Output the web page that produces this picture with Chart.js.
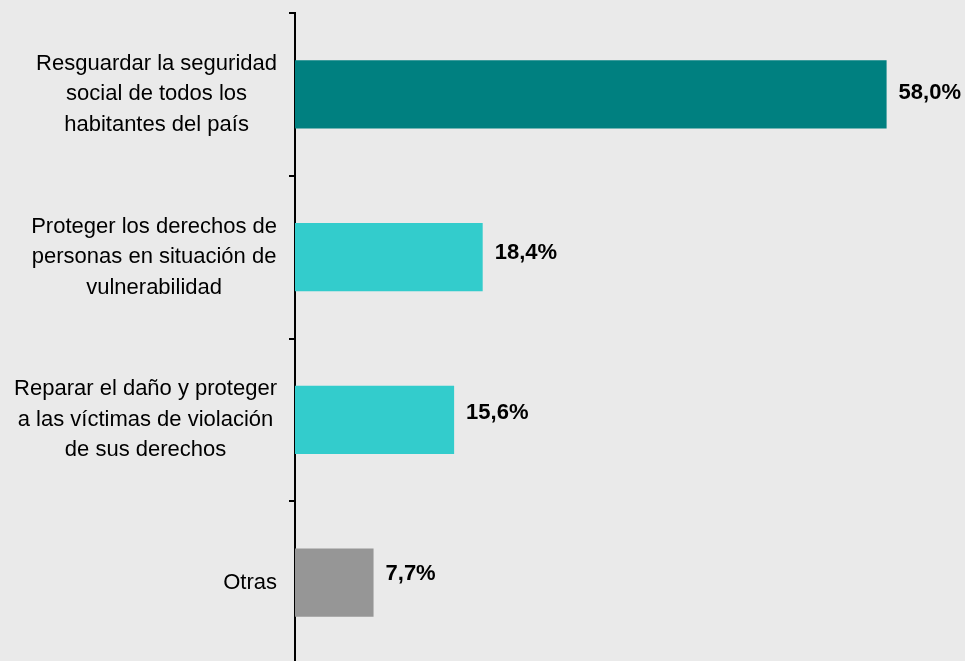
<!DOCTYPE html>
<html>
<head>
<meta charset="utf-8">
<script src="https://cdn.jsdelivr.net/npm/chart.js@4/dist/chart.umd.min.js"></script>
<style>
html,body{margin:0;padding:0;background:#eaeaea;overflow:hidden;}
#wrap{position:relative;width:965px;height:665px;}
</style>
</head>
<body>
<div id="wrap"><canvas id="c"></canvas></div>
<script>
const categories = [
  ["Resguardar la seguridad", "social de todos los", "habitantes del país"],
  ["Proteger los derechos de", "personas en situación de", "vulnerabilidad"],
  ["Reparar el daño y proteger", "a las víctimas de violación", "de sus derechos"],
  ["Otras"]
];
const values = [58.0, 18.4, 15.6, 7.7];
const valueLabels = ["58,0%", "18,4%", "15,6%", "7,7%"];
const barColors = ["#008080", "#33cccc", "#33cccc", "#969696"];

const FONT = '"Liberation Sans", Arial, sans-serif';

const labelPlugin = {
  id: 'customLabels',
  afterDraw(chart) {
    const ctx = chart.ctx;
    const yScale = chart.scales.y;
    ctx.save();
    ctx.font = '22px ' + FONT;
    ctx.fillStyle = '#000';
    ctx.textBaseline = 'middle';
    ctx.textAlign = 'center';
    const rightEdge = 277;
    const lh = 30.5;
    categories.forEach((lines, i) => {
      const yc = yScale.getPixelForValue(i);
      let maxW = 0;
      lines.forEach(l => { maxW = Math.max(maxW, ctx.measureText(l).width); });
      const cx = rightEdge - maxW / 2;
      const y0 = yc - (lines.length - 1) * lh / 2;
      lines.forEach((l, k) => ctx.fillText(l, cx, y0 + k * lh));
    });
    ctx.font = 'bold 22px ' + FONT;
    ctx.textAlign = 'left';
    const meta = chart.getDatasetMeta(0);
    const yOff = [-1, -4, -7, -9];
    meta.data.forEach((bar, i) => {
      ctx.fillText(valueLabels[i], bar.x + 12, bar.y + yOff[i]);
    });
    ctx.restore();
  }
};

new Chart(document.getElementById('c'), {
  type: 'bar',
  data: {
    labels: categories,
    datasets: [{
      data: values,
      backgroundColor: barColors,
      borderWidth: 0,
      barPercentage: 0.418,
      categoryPercentage: 1.0
    }]
  },
  options: {
    indexAxis: 'y',
    responsive: true,
    maintainAspectRatio: false,
    animation: false,
    layout: { padding: { top: 13, right: 7, bottom: 1, left: 0 } },
    plugins: { legend: { display: false }, tooltip: { enabled: false } },
    scales: {
      x: {
        display: false,
        min: 0,
        max: 65
      },
      y: {
        offset: true,
        ticks: { display: false },
        grid: {
          offset: true,
          drawOnChartArea: false,
          drawTicks: true,
          tickLength: 6,
          color: '#000',
          lineWidth: 2
        },
        border: { display: true, color: '#000', width: 2 },
        afterFit(scale) { scale.width = 295; }
      }
    }
  },
  plugins: [labelPlugin]
});
</script>
</body>
</html>
